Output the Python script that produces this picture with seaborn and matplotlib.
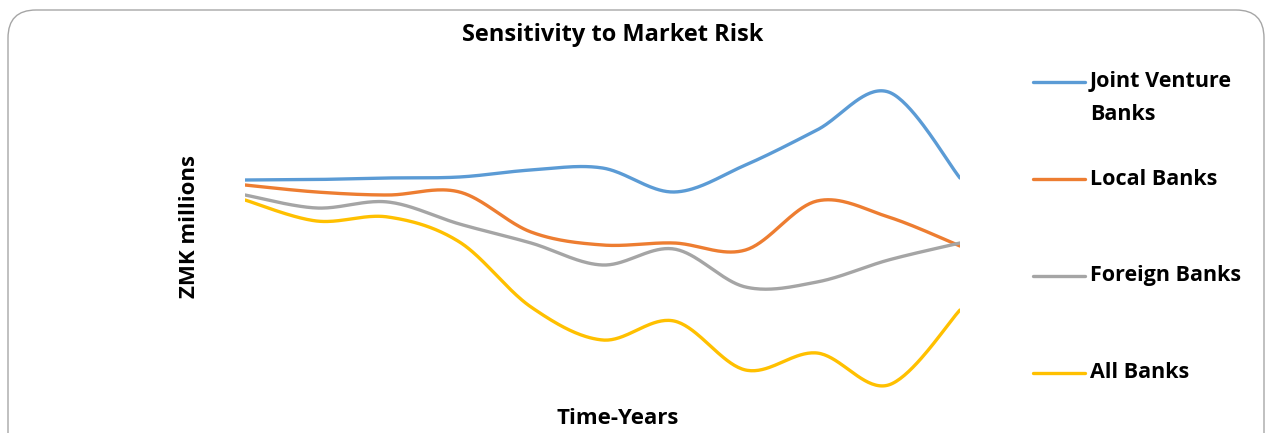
import numpy as np
import pandas as pd
import seaborn as sns
import matplotlib.pyplot as plt
from matplotlib.lines import Line2D
from matplotlib.patches import FancyBboxPatch
from matplotlib.transforms import IdentityTransform

sns.set_theme(style="white")
plt.rcParams["font.family"] = ["Open Sans", "DejaVu Sans"]
plt.rcParams["text.color"] = "black"

# ----------------------------
# Data (arbitrary units)
# ----------------------------
years = list(range(11))
joint_venture = [220, 220.5, 222, 223, 230, 232, 208, 235, 270, 308, 222]
local_banks = [215, 208, 205, 208, 168, 155, 157, 150, 199, 183, 154]
foreign_banks = [205, 192, 198, 176, 157, 135, 151, 113, 118, 140, 157]
all_banks = [200, 179, 183, 158, 93, 60, 79, 30, 47, 15, 90]

series = {
    "Joint Venture\nBanks": joint_venture,
    "Local Banks": local_banks,
    "Foreign Banks": foreign_banks,
    "All Banks": all_banks,
}
colors = ["#5B9BD5", "#ED7D31", "#A5A5A5", "#FFC000"]


def smooth_curve(x, y, n=40):
    # Catmull-Rom style bezier smoothing, like the spreadsheet "smoothed line"
    x = np.asarray(x, float)
    y = np.asarray(y, float)
    px = np.concatenate([[x[0]], x, [x[-1]]])
    py = np.concatenate([[y[0]], y, [y[-1]]])
    xs, ys = [], []
    t = np.linspace(0, 1, n)
    for i in range(1, len(px) - 2):
        p0 = np.array([px[i], py[i]])
        p3 = np.array([px[i + 1], py[i + 1]])
        p1 = p0 + (np.array([px[i + 1], py[i + 1]]) - np.array([px[i - 1], py[i - 1]])) / 6
        p2 = p3 - (np.array([px[i + 2], py[i + 2]]) - np.array([px[i], py[i]])) / 6
        pts = ((1 - t) ** 3)[:, None] * p0 + (3 * (1 - t) ** 2 * t)[:, None] * p1 \
            + (3 * (1 - t) * t ** 2)[:, None] * p2 + (t ** 3)[:, None] * p3
        xs.extend(pts[:, 0])
        ys.extend(pts[:, 1])
    return np.array(xs), np.array(ys)


W, H = 1271, 433
fig = plt.figure(figsize=(W / 100, H / 100), dpi=100)
fig.patch.set_facecolor("white")

# rounded chart border (pixel coordinates)
fig.add_artist(FancyBboxPatch(
    (8, -30), 1256, H - 10 + 30,
    boxstyle="round,pad=0,rounding_size=28",
    transform=IdentityTransform(), facecolor="none", edgecolor="#A6A6A6", linewidth=1.0,
))

ax = fig.add_axes([245 / W, (H - 400) / H, (960 - 245) / W, 350 / H])

for (name, vals), color in zip(series.items(), colors):
    sx, sy = smooth_curve(years, vals)
    sns.lineplot(x=sx, y=sy, ax=ax, color=color, linewidth=2.4, sort=False,
                 estimator=None, solid_capstyle="round")

ax.set_xlim(0, 10)
ax.set_ylim(0, 350)
ax.set_xticks([])
ax.set_yticks([])
for s in ax.spines.values():
    s.set_visible(False)
ax.patch.set_alpha(0)

fig.text(613 / W, 1 - 35 / H, "Sensitivity to Market Risk", ha="center", va="center",
         fontsize=17, fontweight="bold", color="black")
fig.text(618 / W, 1 - 418 / H, "Time-Years", ha="center", va="center",
         fontsize=16, fontweight="bold", color="black")
fig.text(190 / W, 1 - 226 / H, "ZMK millions", ha="center", va="center",
         rotation=90, fontsize=16, fontweight="bold", color="black")

# legend
legend_y = [82, 179, 276, 373]
for (name, _), color, ly in zip(series.items(), colors, legend_y):
    fig.add_artist(Line2D([1033 / W, 1085 / W], [1 - ly / H, 1 - ly / H],
                          transform=fig.transFigure, color=color, linewidth=2.4))
    n_lines = name.count("\n")
    fig.text(1090 / W, 1 - (ly + 16 * n_lines) / H, name, ha="left", va="center",
             fontsize=15.5, fontweight="bold", linespacing=1.72, color="black")

fig.savefig("out.png", dpi=100)
